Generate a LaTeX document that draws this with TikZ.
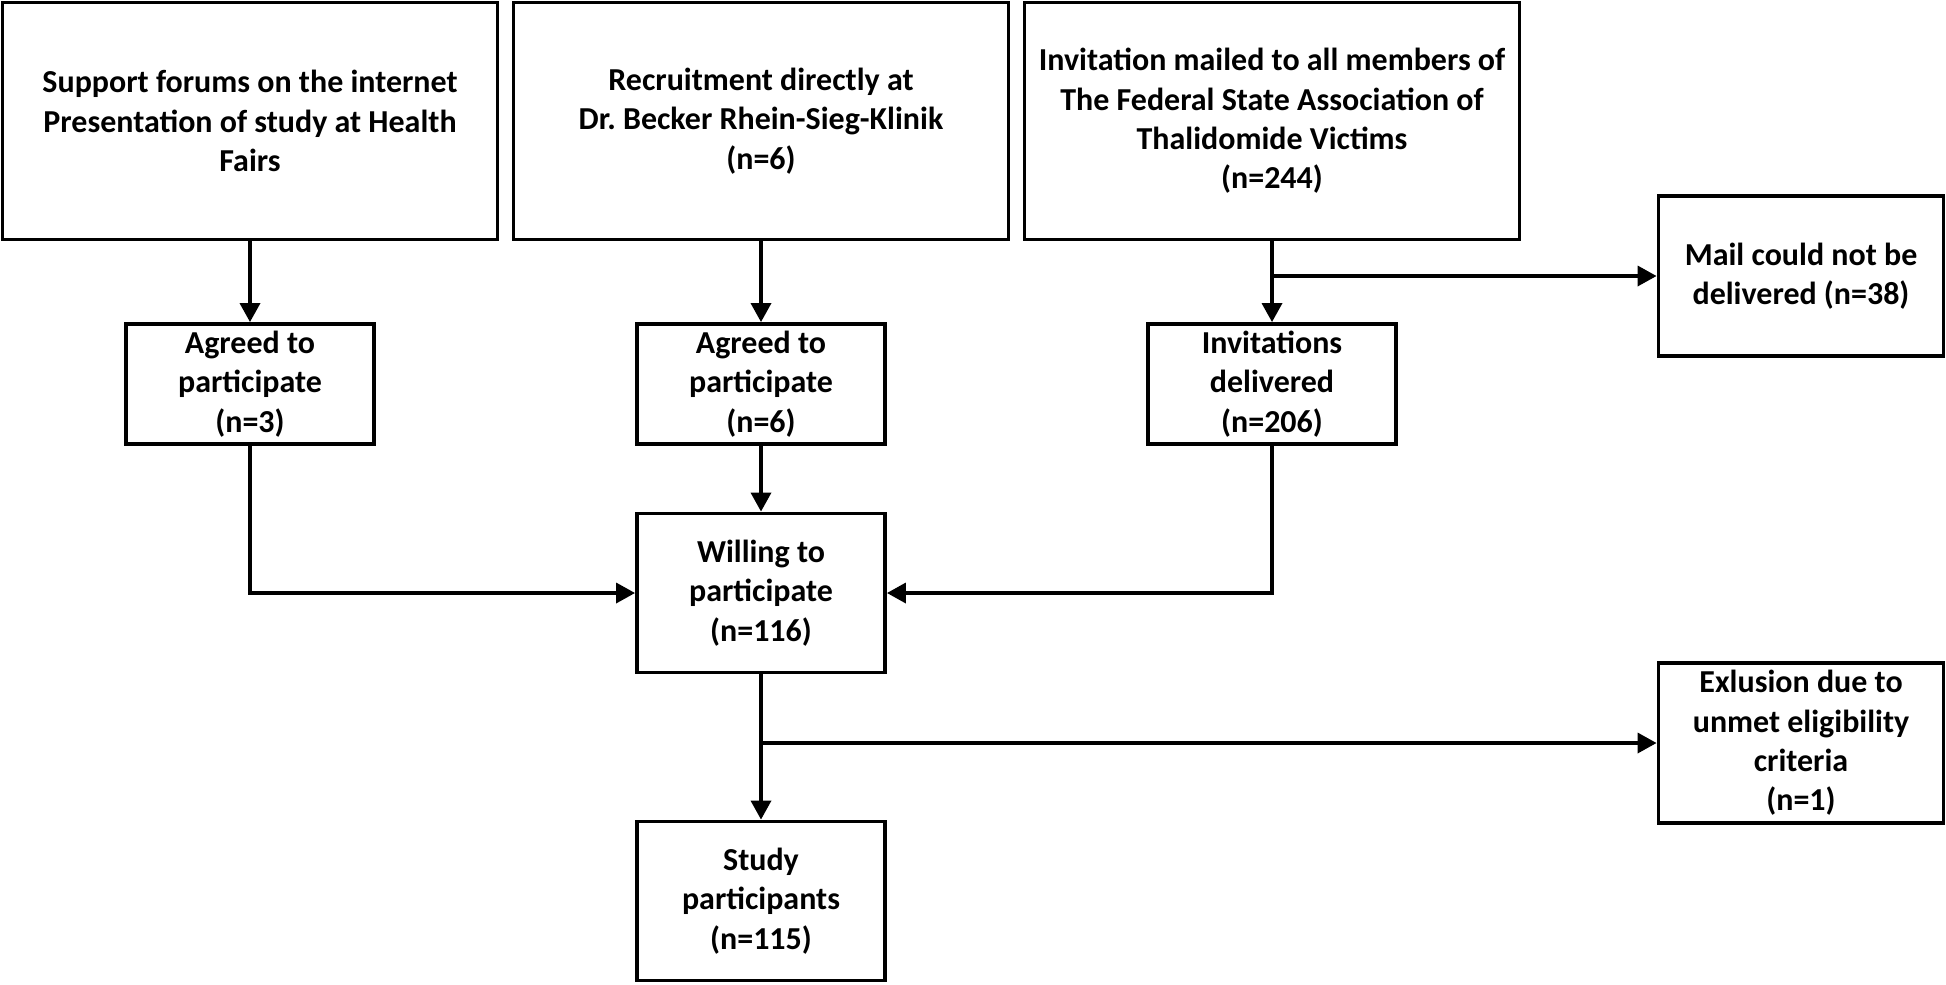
\documentclass[tikz,border=0pt]{standalone}
\usepackage{fontspec}
\setmainfont{Carlito}
\usetikzlibrary{positioning}
\usetikzlibrary{arrows.meta}

\begin{document}
\begin{tikzpicture}[node distance=2cm,on grid,line width=1pt,>={Triangle[length=1.9mm,width=2mm]}]
    % estilos de las cajas
    \tikzstyle{every node}=[font=\fontsize{9.1pt}{11.2pt}\selectfont\bfseries,align=center]
    \tikzstyle{box}=[draw,line width=1.1pt,inner sep=0pt,minimum width=2.48cm,minimum height=1.20cm]
    \tikzstyle{bigbox}=[box,minimum width=4.95cm,minimum height=2.37cm]
    \tikzstyle{tallbox}=[box,minimum height=1.59cm]
    \tikzstyle{sidebox}=[box,minimum width=2.85cm,minimum height=1.60cm]
    \useasboundingbox (0,0) rectangle (19.46,-9.84);

    \node[bigbox] (forums) at (2.50,-1.21) {Support forums on the internet\\Presentation of study at Health\\Fairs};
    \node[bigbox] (clinic) [right=5.11cm of forums] {Recruitment directly at\\Dr.\ Becker Rhein-Sieg-Klinik\\(n=6)};
    \node[bigbox] (mailed) [right=5.11cm of clinic] {Invitation mailed to all members of\\The Federal State Association of\\Thalidomide Victims\\(n=244)};
    \node[sidebox] (undelivered) at (18.01,-2.76) {Mail could not be\\delivered (n=38)};
    \node[box] (agreedA) [below=2.63cm of forums] {Agreed to\\participate\\(n=3)};
    \node[box] (agreedB) [below=2.63cm of clinic] {Agreed to\\participate\\(n=6)};
    \node[box] (delivered) [below=2.63cm of mailed] {Invitations\\delivered\\(n=206)};
    \node[tallbox] (willing) [below=2.09cm of agreedB] {Willing to\\participate\\(n=116)};
    \node[tallbox] (study) [below=3.08cm of willing] {Study\\participants\\(n=115)};
    \node[sidebox] (exclusion) at (18.01,-7.43) {Exlusion due to\\unmet eligibility\\criteria\\(n=1)};

    \coordinate (splitA) at (mailed.south |- undelivered.west);
    \coordinate (splitB) at (willing.south |- exclusion.west);

    \path[->]
    (forums) edge (agreedA)
    (clinic) edge (agreedB)
    (mailed) edge (delivered)
    (agreedB) edge (willing)
    (willing) edge (study)
    (splitA) edge (undelivered)
    (splitB) edge (exclusion);
    \draw[->] (agreedA.south) |- (willing.west);
    \draw[->] (delivered.south) |- (willing.east);

\end{tikzpicture}
\end{document}
